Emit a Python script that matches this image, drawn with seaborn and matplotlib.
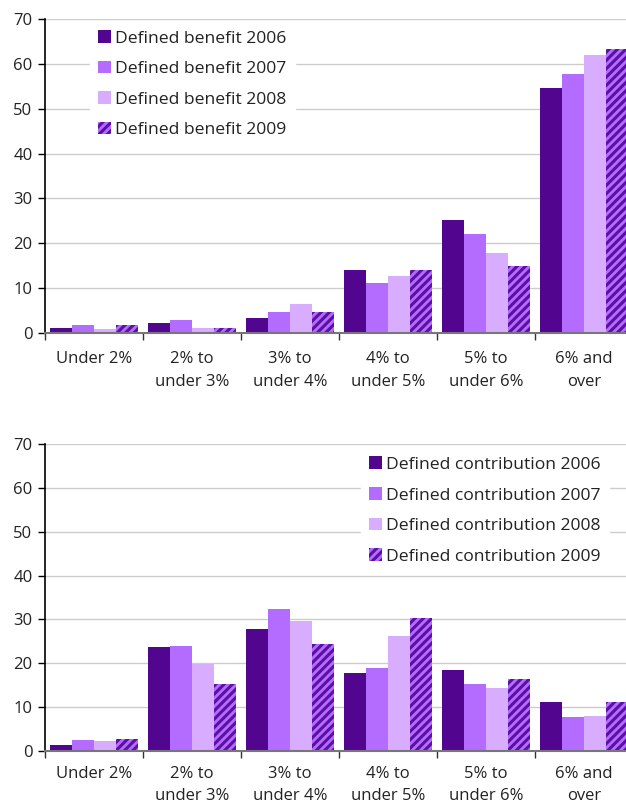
import matplotlib
matplotlib.use("Agg")
import matplotlib.pyplot as plt
import seaborn as sns
import pandas as pd
import numpy as np
from matplotlib.patches import Patch

categories = ["Under 2%", "2% to\nunder 3%", "3% to\nunder 4%", "4% to\nunder 5%", "5% to\nunder 6%", "6% and\nover"]
years = ["2006", "2007", "2008", "2009"]

db_2006 = [1.1, 2.2, 3.3, 14.0, 25.2, 54.6]
db_2007 = [1.8, 2.9, 4.7, 11.1, 22.1, 57.7]
db_2008 = [0.9, 1.1, 6.5, 12.7, 17.8, 62.0]
db_2009 = [1.8, 1.1, 4.7, 14.0, 14.9, 63.3]

dc_2006 = [1.4, 23.7, 27.8, 17.8, 18.5, 11.2]
dc_2007 = [2.5, 23.9, 32.3, 18.9, 15.3, 7.7]
dc_2008 = [2.3, 19.8, 29.6, 26.2, 14.4, 8.0]
dc_2009 = [2.7, 15.3, 24.4, 30.3, 16.4, 11.2]

y_ticks = [0, 10, 20, 30, 40, 50, 60, 70]

sns.set_theme(style="white")
plt.rcParams["font.family"] = ["Open Sans", "DejaVu Sans"]
plt.rcParams["hatch.linewidth"] = 2.2

c06, c07, c08 = "#52058E", "#B36CFF", "#D8ADFF"
c09_face, c09_hatch = "#B36CFF", "#5C10A2"
palette = [c06, c07, c08, c09_face]


def make_df(series):
    rows = []
    for yr, vals in zip(years, series):
        for cat, v in zip(categories, vals):
            rows.append({"cat": cat, "year": yr, "value": v})
    return pd.DataFrame(rows)


fig = plt.figure(figsize=(6.26, 8.05), dpi=100)
ax1 = fig.add_axes([45 / 626, 1 - 333 / 805, 588 / 626, 314 / 805])
ax2 = fig.add_axes([45 / 626, 1 - 751 / 805, 588 / 626, 307 / 805])


def draw(ax, series, prefix, legend_anchor, xpad, xls):
    df = make_df(series)
    sns.barplot(data=df, x="cat", y="value", hue="year", order=categories,
                hue_order=years, palette=palette, width=0.9, saturation=1,
                linewidth=0, ax=ax, legend=False, zorder=2)
    for bar in ax.containers[3]:
        bar.set_facecolor(c09_face)
        bar.set_edgecolor(c09_hatch)
        bar.set_hatch("////")
        bar.set_linewidth(0)
    ax.set_xlim(-0.5, len(categories) - 0.5)
    ax.set_ylim(0, 70)
    ax.set_yticks(y_ticks)
    ax.set_yticklabels([str(t) for t in y_ticks], fontsize=12, color="#222222")
    ax.yaxis.grid(True, color="#cccccc", linewidth=1)
    ax.set_axisbelow(True)
    # category boundaries as major ticks, labels at minor ticks
    ax.set_xticks(np.arange(-0.5, len(categories) + 0.5, 1.0))
    ax.set_xticklabels([])
    ax.set_xticks(np.arange(len(categories)), minor=True)
    ax.set_xticklabels(categories, minor=True, fontsize=12, color="#222222",
                       linespacing=xls)
    ax.tick_params(axis="x", which="major", direction="out", length=5, width=1,
                   color="#333333", bottom=True)
    ax.tick_params(axis="x", which="minor", length=0, pad=xpad)
    ax.tick_params(axis="y", direction="out", length=5, width=1, color="#000000",
                   left=True, pad=4)
    for s in ["top", "right"]:
        ax.spines[s].set_visible(False)
    ax.spines["left"].set_color("#000000")
    ax.spines["left"].set_linewidth(1.2)
    ax.spines["bottom"].set_color("#777777")
    ax.spines["bottom"].set_linewidth(1.5)
    ax.set_xlabel("")
    ax.set_ylabel("")
    handles = [
        Patch(facecolor=c06, linewidth=0),
        Patch(facecolor=c07, linewidth=0),
        Patch(facecolor=c08, linewidth=0),
        Patch(facecolor=c09_face, edgecolor=c09_hatch, hatch="////", linewidth=0),
    ]
    labels = [f"{prefix} {y}" for y in years]
    leg = ax.legend(handles, labels, loc="upper left", bbox_to_anchor=legend_anchor,
                    frameon=True, facecolor="white", edgecolor="white",
                    fontsize=12.6, handlelength=0.75, handleheight=0.75,
                    handletextpad=0.25, labelspacing=0.8, borderpad=0.45,
                    borderaxespad=0, framealpha=1, fancybox=False)
    for t in leg.get_texts():
        t.set_color("#222222")
    leg.set_zorder(5)


draw(ax1, [db_2006, db_2007, db_2008, db_2009], "Defined benefit", (0.0765, 0.99), 13, 1.6)
draw(ax2, [dc_2006, dc_2007, dc_2008, dc_2009], "Defined contribution", (0.537, 0.985), 11, 1.45)

fig.savefig("out.png", dpi=100)
